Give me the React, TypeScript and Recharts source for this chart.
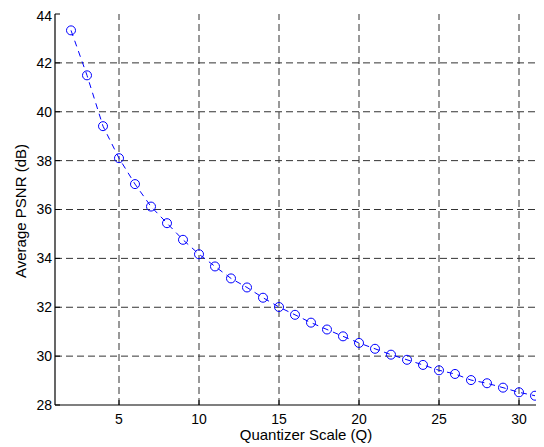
import { LineChart, Line, XAxis, YAxis, ReferenceLine } from "recharts";

const quantizerScale = [
  2, 3, 4, 5, 6, 7, 8, 9, 10, 11, 12, 13, 14, 15, 16, 17, 18, 19, 20, 21, 22, 23, 24, 25, 26, 27, 28, 29, 30, 31,
];
const avgPsnr = [
  43.33, 41.49, 39.41, 38.1, 37.04, 36.12, 35.44, 34.76, 34.17, 33.67, 33.18, 32.81, 32.39, 32.01, 31.69, 31.37,
  31.09, 30.81, 30.54, 30.3, 30.06, 29.85, 29.64, 29.42, 29.27, 29.02, 28.89, 28.71, 28.52, 28.38,
];
const xTicks = [5, 10, 15, 20, 25, 30];
const yTicks = [28, 30, 32, 34, 36, 38, 40, 42, 44];

const data = quantizerScale.map((q, i) => ({ q, psnr: avgPsnr[i] }));

const font = '"Liberation Sans", Arial, sans-serif';

export default function App() {
  return (
    <div style={{ width: 536, height: 439, overflow: "hidden", fontFamily: font }}>
      <LineChart
        width={560}
        height={439}
        data={data}
        margin={{ top: 6, right: 17, left: 0, bottom: 6 }}
      >
        {xTicks.map((t) => (
          <ReferenceLine key={"x" + t} x={t} stroke="#333" strokeDasharray="7 4" />
        ))}
        {yTicks.slice(1, -1).map((t) => (
          <ReferenceLine key={"y" + t} y={t} stroke="#333" strokeDasharray="7 4" />
        ))}
        <XAxis
          dataKey="q"
          type="number"
          domain={[1, 32]}
          ticks={xTicks}
          height={36}
          stroke="#000"
          tickSize={-5}
          tickMargin={14}
          tick={{ fill: "#000", fontSize: 14, fontFamily: font }}
          axisLine={{ stroke: "#000", strokeWidth: 1.2 }}
          label={() => (
            <text x={298} y={432} textAnchor="middle" fontSize={15} fontFamily={font} fill="#000">
              Quantizer Scale (Q)
            </text>
          )}
        />
        <XAxis
          xAxisId="top"
          orientation="top"
          dataKey="q"
          type="number"
          domain={[1, 32]}
          ticks={xTicks}
          height={0}
          tickSize={-5}
          tickFormatter={() => ""}
          stroke="#000"
          axisLine={{ stroke: "#000", strokeWidth: 1.2 }}
        />
        <YAxis
          type="number"
          domain={[28, 44]}
          ticks={yTicks}
          width={47}
          tickSize={-5}
          tickMargin={8}
          stroke="#000"
          tick={{ fill: "#000", fontSize: 14, fontFamily: font }}
          axisLine={{ stroke: "#000", strokeWidth: 1.2 }}
          label={() => (
            <text
              x={18}
              y={203}
              transform="rotate(-90 18 203)"
              textAnchor="middle"
              fontSize={15}
              fontFamily={font}
              fill="#000"
            >
              Average PSNR (dB)
            </text>
          )}
        />
        <Line
          dataKey="psnr"
          stroke="#0000ff"
          strokeWidth={1}
          strokeDasharray="6 5"
          dot={{ r: 4.5, stroke: "#0000ff", strokeWidth: 1, fill: "none", strokeDasharray: "0" }}
          activeDot={false}
          isAnimationActive={false}
        />
      </LineChart>
    </div>
  );
}
